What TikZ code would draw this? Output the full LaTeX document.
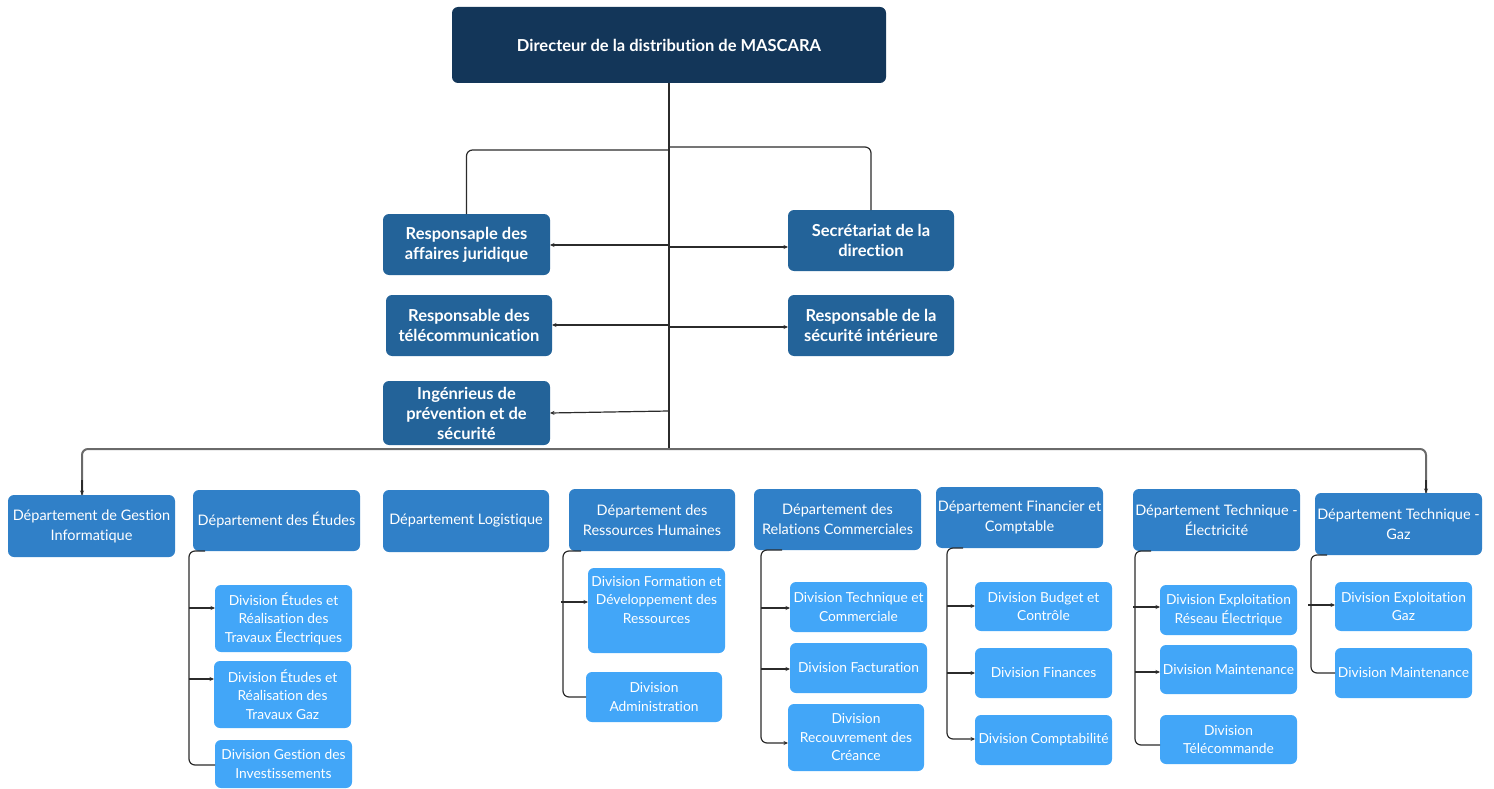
\documentclass[tikz,border=0pt]{standalone}
\usepackage{fontspec}
\setmainfont{Lato}[Ligatures={NoCommon,TeX}]
\usetikzlibrary{arrows.meta}

\definecolor{navy}{HTML}{133659}
\definecolor{midblue}{HTML}{236399}
\definecolor{deptblue}{HTML}{3080C8}
\definecolor{divblue}{HTML}{42A6F8}
\definecolor{lineclr}{HTML}{2B2B2B}
\definecolor{busgray}{HTML}{6A6A6A}

\tikzset{
  base/.style={rounded corners=6pt, text=white, align=center, inner sep=1pt, outer sep=0pt},
  topbox/.style={base, fill=navy, font=\bfseries\fontsize{16.5}{19}\selectfont},
  midbox/.style={base, fill=midblue, font=\bfseries\fontsize{16.5}{20}\selectfont},
  deptbox/.style={base, fill=deptblue, font=\fontsize{14.5}{20}\selectfont},
  divbox/.style={base, fill=divblue, font=\fontsize{13.8}{18.5}\selectfont},
  conn/.style={draw=lineclr, line width=1.2pt},
  arr/.style={conn, -{Stealth[length=4.5pt,width=4pt]}},
  bus/.style={draw=busgray, line width=2pt},
}

% box: style, x1, y1, x2, y2, name, text
\newcommand\bx[7]{\node[#1, minimum width={#4-#2}, minimum height={#5-#3}] (#6) at ({(#2+#4)/2},{(#3+#5)/2}) {#7};}

\begin{document}
\begin{tikzpicture}[x=1pt,y=-1pt]
\useasboundingbox (0,0) rectangle (1494,789);

% head
\bx{topbox}{452}{7}{886}{83}{dir}{Directeur de la distribution de MASCARA}

% staff
\bx{midbox}{383}{214}{550}{275}{jur}{Responsaple des\\affaires juridique}
\bx{midbox}{788}{210}{954}{271}{sec}{Secrétariat de la\\direction}
\bx{midbox}{386}{295}{552}{356}{tel}{Responsable des\\télécommunication}
\bx{midbox}{788}{295}{954}{356}{si}{Responsable de la\\sécurité intérieure}
\bx{midbox}{383}{381}{550}{445}{ing}{Ingénrieus de\\prévention et de\\sécurité}

% departments
\bx{deptbox}{8}{495}{175}{557}{gi}{Département de Gestion\\Informatique}
\bx{deptbox}{193}{490}{360}{551}{et}{Département des Études}
\bx{deptbox}{383}{490}{549}{552}{lo}{Département Logistique}
\bx{deptbox}{569}{489}{735}{551}{rh}{Département des\\Ressources Humaines}
\bx{deptbox}{754}{489}{921}{550}{rc}{Département des\\Relations Commerciales}
\bx{deptbox}{936}{487}{1103}{548}{fc}{Département Financier et\\Comptable}
\bx{deptbox}{1133}{489}{1300}{551}{te}{Département Technique -\\Électricité}
\bx{deptbox}{1315}{493}{1482}{555}{tg}{Département Technique -\\Gaz}

% divisions
\bx{divbox}{215}{585}{352}{652}{e1}{Division Études et\\Réalisation des\\Travaux Électriques}
\bx{divbox}{214}{661}{351}{728}{e2}{Division Études et\\Réalisation des\\Travaux Gaz}
\bx{divbox}{215}{740}{352}{788}{e3}{Division Gestion des\\Investissements}

\bx{divbox}{588}{568}{725}{653}{r1}{}
\node[text=white, align=center, font=\fontsize{13.8}{18.5}\selectfont] (r1t) at (656.5,600) {Division Formation et\\Développement des\\Ressources};
\bx{divbox}{586}{672}{722}{722}{r2}{Division\\Administration}

\bx{divbox}{790}{582}{927}{632}{c1}{Division Technique et\\Commerciale}
\bx{divbox}{790}{643}{927}{693}{c2}{Division Facturation}
\bx{divbox}{788}{704}{924}{771}{c3}{Division\\Recouvrement des\\Créance}

\bx{divbox}{975}{582}{1112}{631}{f1}{Division Budget et\\Contrôle}
\bx{divbox}{975}{648}{1112}{698}{f2}{Division Finances}
\bx{divbox}{975}{715}{1112}{765}{f3}{Division Comptabilité}

\bx{divbox}{1160}{585}{1297}{635}{l1}{Division Exploitation\\Réseau Électrique}
\bx{divbox}{1160}{645}{1297}{694}{l2}{Division Maintenance}
\bx{divbox}{1160}{715}{1297}{764}{l3}{Division\\Télécommande}

\bx{divbox}{1335}{582}{1472}{631}{g1}{Division Exploitation\\Gaz}
\bx{divbox}{1335}{648}{1472}{698}{g2}{Division Maintenance}

% trunk and staff links
\coordinate (hub) at (dir.south |- 0,449);
\draw[conn] (dir.south) -- (hub);
\draw[conn, rounded corners=6] (dir.south |- 0,150) -| (jur.north);
\draw[conn, rounded corners=6] (dir.south |- 0,147) -| (sec.north);
\draw[arr] (dir.south |- 0,245) -- (jur.east |- 0,245);
\draw[arr] (dir.south |- 0,247) -- (sec.west |- 0,247);
\draw[arr] (dir.south |- 0,325) -- (tel.east |- 0,325);
\draw[arr] (dir.south |- 0,327) -- (si.west |- 0,327);
\draw[arr] (dir.south |- 0,411) -- (ing.east |- 0,413);

% department bus
\draw[bus, rounded corners=6] (hub) -| (82,0 |- gi.north);
\draw[bus, rounded corners=6] (hub) -| (1426,0 |- tg.north);
\draw[arr] (82,0 |- 0,480) -- (82,0 |- gi.north);
\draw[arr] (1426,0 |- 0,480) -- (1426,0 |- tg.north);

% Études
\draw[conn, rounded corners=6] ([xshift=12pt]et.south west) -| (189,765) -- (e3.west |- 0,765);
\draw[arr] (189,608) -- (e1.west |- 0,608);
\draw[arr] (189,679) -- (e2.west |- 0,679);

% Ressources Humaines
\draw[conn, rounded corners=6] ([xshift=12pt]rh.south west) -| (563,697) -- (r2.west |- 0,697);
\draw[arr] (561,602) -- (r1.west |- 0,602);

% Relations Commerciales
\draw[conn, rounded corners=6, -{Stealth[length=4.5pt,width=4pt]}] ([xshift=28pt]rc.south west) -| (761,743) -- (c3.west |- 0,743);
\draw[arr] (761,608) -- (c1.west |- 0,608);
\draw[arr] (761,669) -- (c2.west |- 0,669);

% Financier et Comptable
\draw[conn, rounded corners=6, -{Stealth[length=4.5pt,width=4pt]}] ([xshift=27pt]fc.south west) -| (947,739) -- (f3.west |- 0,739);
\draw[arr] (947,606) -- (f1.west |- 0,606);
\draw[arr] (947,673) -- (f2.west |- 0,673);

% Technique - Électricité
\draw[conn, rounded corners=6] ([xshift=18pt]te.south west) -| (1135,745) -- (l3.west |- 0,745);
\draw[arr] (1133,607) -- (l1.west |- 0,607);
\draw[arr] (1135,672) -- (l2.west |- 0,672);

% Technique - Gaz
\draw[conn, rounded corners=6] ([xshift=12pt]tg.south west) -| (1311,673) -- (g2.west |- 0,673);
\draw[arr] (1308,605) -- (g1.west |- 0,605);
\end{tikzpicture}
\end{document}
